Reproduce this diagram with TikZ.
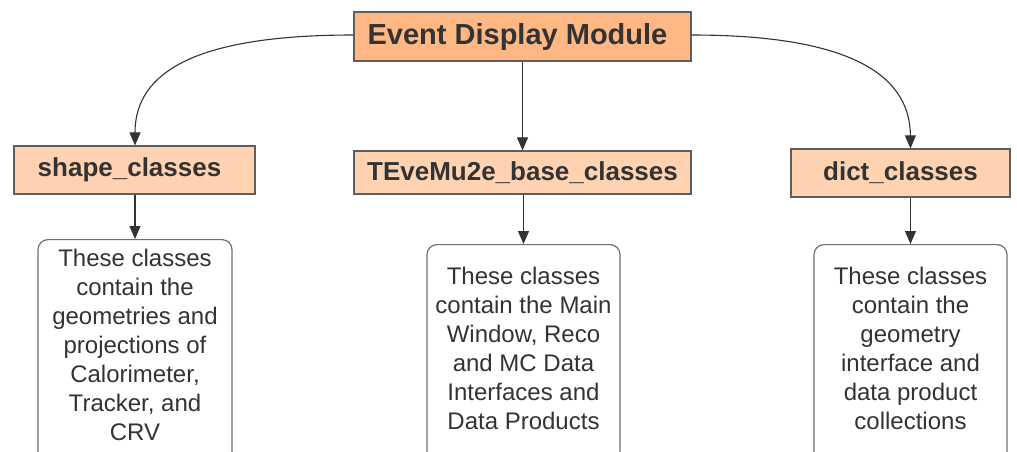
\documentclass[tikz,border=0pt]{standalone}
\usepackage{fontspec}
\setmainfont{Liberation Sans}
\usetikzlibrary{arrows.meta}
\definecolor{edgecol}{HTML}{5E5E5E}
\definecolor{txtcol}{HTML}{333333}
\definecolor{mainfill}{HTML}{FFB783}
\definecolor{subfill}{HTML}{FFD3B1}
\definecolor{tboxcol}{HTML}{707070}
\begin{document}
\begin{tikzpicture}[x=1pt,y=-1pt,
  mainbox/.style={draw=edgecol,fill=mainfill,line width=1.2pt,inner sep=0pt,
    text=txtcol,font=\bfseries\fontsize{29}{35}\selectfont},
  subbox/.style={draw=edgecol,fill=subfill,line width=1.2pt,inner sep=0pt,
    text=txtcol,font=\bfseries\fontsize{26}{31}\selectfont},
  tbox/.style={draw=tboxcol,line width=1.2pt,rounded corners=10pt,inner sep=0pt,
    minimum width=194pt,minimum height=240pt,anchor=north},
  tbody/.style={align=center,inner sep=0pt,text=txtcol,font=\fontsize{24}{29}\selectfont},
  conn/.style={draw=txtcol,line width=1.1pt,-{Triangle[length=13pt,width=11pt]}}]
\useasboundingbox (0,0) rectangle (1017,451);
\clip (0,0) rectangle (1017,451);
\fill[white] (0,0) rectangle (1017,451);

\node[mainbox,minimum width=337pt,minimum height=49pt] (top) at (522.5,36.5) {Event Display Module\hspace*{10pt}};
\node[subbox,minimum width=241pt,minimum height=48pt] (shape) at (134.5,170) {shape\_classes\hspace*{10pt}};
\node[subbox,minimum width=337pt,minimum height=43pt] (teve) at (522.5,172.5) {TEveMu2e\_base\_classes};
\node[subbox,minimum width=219pt,minimum height=48pt] (dict) at (900.5,173) {dict\_classes};

\node[tbox] (t1) at (135,239) {};
\node[tbox,minimum width=193pt] (t2) at (523.5,244) {};
\node[tbox,minimum width=193pt] (t3) at (910.5,244) {};

\node[tbody] (b1) at (135,345) {These classes\\contain the\\geometries and\\projections of\\Calorimeter,\\Tracker, and\\CRV};
\node[tbody] (b2) at (523.5,348) {These classes\\contain the Main\\Window, Reco\\and MC Data\\Interfaces and\\Data Products};
\node[tbody] (b3) at (910.5,348) {These classes\\contain the\\geometry\\interface and\\data product\\collections};

\draw[conn] (top.west |- 0,35) .. controls (200,35) and (135,70) .. (shape.north -| t1.north);
\draw[conn] (top.east |- 0,35) .. controls (840,35) and (910,70) .. (dict.north -| t3.north);
\draw[conn] (top.south) -- (teve.north);
\draw[conn] (shape.south -| t1.north) -- (t1.north);
\draw[conn] (teve.south -| t2.north) -- (t2.north);
\draw[conn] (dict.south -| t3.north) -- (t3.north);
\end{tikzpicture}
\end{document}
